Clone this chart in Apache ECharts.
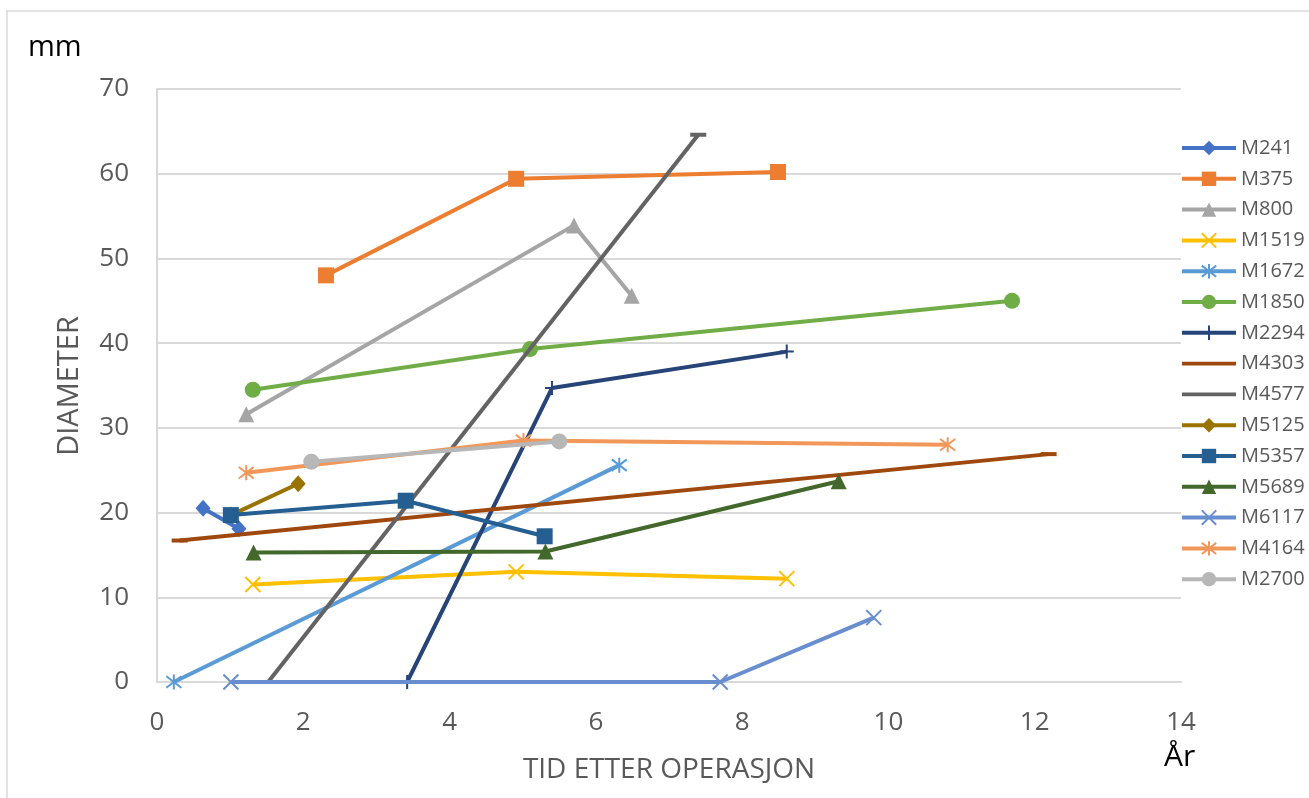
<!DOCTYPE html>
<html>
<head>
<meta charset="utf-8">
<script src="https://cdn.jsdelivr.net/npm/echarts@6/dist/echarts.min.js"></script>
<style>
  html, body { margin: 0; padding: 0; background: #fff; }
  #chart { width: 1309px; height: 798px; }
</style>
</head>
<body>
<div id="chart"></div>
<script>
// Measurements per patient: [years after surgery, diameter in mm]
const seriesNames = ['M241', 'M375', 'M800', 'M1519', 'M1672', 'M1850', 'M2294', 'M4303',
                     'M4577', 'M5125', 'M5357', 'M5689', 'M6117', 'M4164', 'M2700'];
const m241  = [[0.63, 20.5], [1.12, 18.1]];
const m375  = [[2.31, 48.0], [4.91, 59.4], [8.49, 60.2]];
const m800  = [[1.22, 31.6], [5.70, 53.9], [6.49, 45.6]];
const m1519 = [[1.31, 11.5], [4.91, 13.0], [8.61, 12.2]];
const m1672 = [[0.23, 0], [6.32, 25.6]];
const m1850 = [[1.31, 34.5], [5.10, 39.3], [11.69, 45.0]];
const m2294 = [[3.42, 0], [5.40, 34.7], [8.61, 39.0]];
const m4303 = [[0.31, 16.7], [12.19, 26.9]];
const m4577 = [[1.52, 0], [7.40, 64.6]];
const m5125 = [[1.01, 19.7], [1.93, 23.4]];
const m5357 = [[1.01, 19.7], [3.40, 21.4], [5.30, 17.2]];
const m5689 = [[1.32, 15.3], [5.31, 15.4], [9.32, 23.7]];
const m6117 = [[1.01, 0], [7.70, 0], [9.80, 7.6]];
const m4164 = [[1.22, 24.7], [5.01, 28.5], [10.81, 28.0]];
const m2700 = [[2.11, 26.0], [5.50, 28.4]];
const seriesData = [m241, m375, m800, m1519, m1672, m1850, m2294, m4303,
                    m4577, m5125, m5357, m5689, m6117, m4164, m2700];

const xTicks = { min: 0, max: 14, step: 2 };
const yTicks = { min: 0, max: 70, step: 10 };

const colors = ['#4472C4', '#ED7D31', '#A5A5A5', '#FFC000', '#5B9BD5', '#70AD47', '#264478', '#9E480E',
                '#636363', '#997300', '#255E91', '#43682B', '#698ED0', '#F1975A', '#B7B7B7'];

// Marker shapes, cycling like a spreadsheet's automatic markers
const SHAPES = {
  diamond: { symbol: 'diamond', size: [15, 17], stroke: false },
  square:  { symbol: 'rect', size: 16, stroke: false },
  triangle:{ symbol: 'triangle', size: 16, stroke: false },
  cross:   { symbol: 'path://M0,0L10,10M10,0L0,10', size: 15, stroke: true },
  star:    { symbol: 'path://M0,0L10,10M10,0L0,10M5,-1.5L5,11.5', size: 15, stroke: true },
  circle:  { symbol: 'circle', size: 16, stroke: false },
  plus:    { symbol: 'path://M5,0L5,10M0,5L10,5', size: 14, stroke: true },
  dash:    { symbol: 'path://M0,0L10,0L10,2.5L0,2.5Z', size: [16, 4], stroke: false }
};
const markerOrder = ['diamond', 'square', 'triangle', 'cross', 'star', 'circle', 'plus', 'dash',
                     'dash', 'diamond', 'square', 'triangle', 'cross', 'star', 'circle'];

// Plain line legend swatch for series whose dash caps vanish into the line
const LINE_ICON = 'path://M0,0M54,18M0,7.2L54,7.2L54,10.8L0,10.8Z';

const series = seriesNames.map((name, i) => {
  const shape = SHAPES[markerOrder[i]];
  const c = colors[i];
  return {
    name: name,
    type: 'line',
    data: seriesData[i],
    symbol: shape.symbol,
    symbolSize: shape.size,
    showAllSymbol: true,
    lineStyle: { color: c, width: 4 },
    itemStyle: shape.stroke
      ? { color: c, borderColor: c, borderWidth: 2 }
      : { color: c, borderWidth: 0 },
    emphasis: { disabled: true },
    z: 2 + i
  };
});

const legendData = seriesNames.map((name, i) =>
  markerOrder[i] === 'dash' ? { name: name, icon: LINE_ICON } : { name: name });

const chart = echarts.init(document.getElementById('chart'), null, { renderer: 'canvas' });
const FONT = '"Open Sans", "Noto Sans", sans-serif';
chart.setOption({
  backgroundColor: '#ffffff',
  animation: false,
  textStyle: { fontFamily: FONT },
  grid: { left: 157, right: 128, top: 89, bottom: 116, containLabel: false },
  xAxis: {
    type: 'value',
    min: xTicks.min, max: xTicks.max, interval: xTicks.step,
    name: 'TID ETTER OPERASJON',
    nameLocation: 'middle',
    nameGap: 74,
    nameTextStyle: { color: '#595959', fontSize: 28, fontFamily: FONT },
    axisLine: { show: true, lineStyle: { color: '#D9D9D9', width: 2 } },
    axisTick: { show: false },
    axisLabel: { color: '#595959', fontSize: 26, margin: 28, fontFamily: FONT },
    splitLine: { show: false }
  },
  yAxis: {
    type: 'value',
    min: yTicks.min, max: yTicks.max, interval: yTicks.step,
    axisLine: { show: true, lineStyle: { color: '#D9D9D9', width: 2 } },
    axisTick: { show: false },
    axisLabel: { color: '#595959', fontSize: 26, margin: 28, fontFamily: FONT },
    splitLine: { show: true, lineStyle: { color: '#D9D9D9', width: 2 } }
  },
  legend: {
    orient: 'vertical',
    left: 1180,
    top: 138,
    padding: 0,
    itemWidth: 54,
    itemHeight: 18,
    itemGap: 10.8,
    selectedMode: false,
    lineStyle: { width: 4 },
    textStyle: { color: '#595959', fontSize: 20, fontFamily: FONT },
    data: legendData
  },
  graphic: [
    {
      type: 'rect',
      shape: { x: 7, y: 11, width: 1330, height: 820 },
      style: { fill: 'none', stroke: '#D9D9D9', lineWidth: 1.5 },
      silent: true, z: -10
    },
    {
      type: 'text', left: 28, top: 33,
      style: { text: 'mm', fill: '#000000', fontSize: 29, fontFamily: FONT }
    },
    {
      type: 'text', left: 1164, top: 742,
      style: { text: 'År', fill: '#000000', fontSize: 30, fontFamily: FONT }
    },
    {
      type: 'text', x: 70, y: 386, rotation: Math.PI / 2,
      style: { text: 'DIAMETER', fill: '#595959', fontSize: 29, fontFamily: FONT,
               align: 'center', verticalAlign: 'middle' }
    }
  ],
  series: series
});
</script>
</body>
</html>
